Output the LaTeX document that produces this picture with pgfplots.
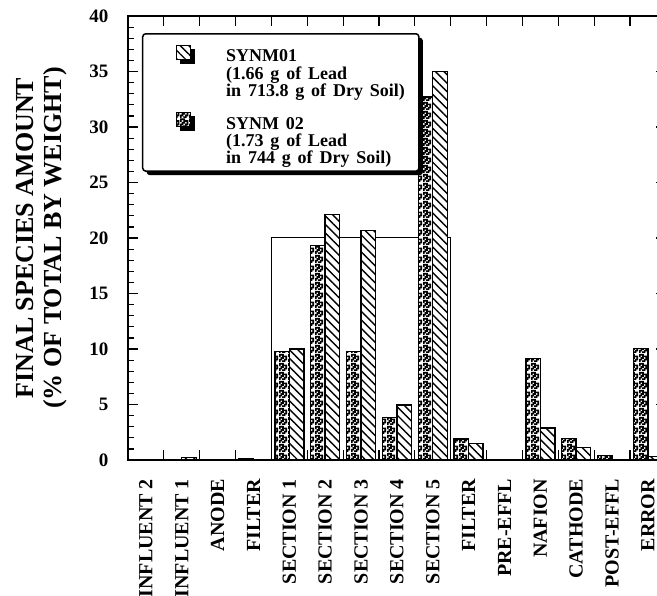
\documentclass[border=0pt]{standalone}
\usepackage{fontspec}
\setmainfont{Liberation Serif}
\usepackage{pgfplots}
\pgfplotsset{compat=1.18}
\usepackage{pgfplotstable}
\usetikzlibrary{patterns,patterns.meta,shadows}

\pgfdeclarepatternformonly{mottle}{\pgfqpoint{0pt}{0pt}}{\pgfqpoint{4.5pt}{4.5pt}}{\pgfqpoint{4.5pt}{4.5pt}}{%
  \pgfpathrectangle{\pgfqpoint{0pt}{0pt}}{\pgfqpoint{0.9pt}{0.9pt}}%
  \pgfpathrectangle{\pgfqpoint{1.8pt}{0pt}}{\pgfqpoint{1.8pt}{0.9pt}}%
  \pgfpathrectangle{\pgfqpoint{0pt}{0.9pt}}{\pgfqpoint{1.8pt}{0.9pt}}%
  \pgfpathrectangle{\pgfqpoint{2.7pt}{0.9pt}}{\pgfqpoint{1.8pt}{0.9pt}}%
  \pgfpathrectangle{\pgfqpoint{0.9pt}{1.8pt}}{\pgfqpoint{1.8pt}{0.9pt}}%
  \pgfpathrectangle{\pgfqpoint{3.6pt}{1.8pt}}{\pgfqpoint{0.9pt}{0.9pt}}%
  \pgfpathrectangle{\pgfqpoint{0pt}{2.7pt}}{\pgfqpoint{0.9pt}{0.9pt}}%
  \pgfpathrectangle{\pgfqpoint{1.8pt}{2.7pt}}{\pgfqpoint{2.7pt}{0.9pt}}%
  \pgfpathrectangle{\pgfqpoint{0pt}{3.6pt}}{\pgfqpoint{2.7pt}{0.9pt}}%
  \pgfusepath{fill}}

\newcommand{\legfont}{\fontsize{9}{7.6}\selectfont\bfseries\spaceskip=0.38em}

\pgfplotstableread{
x s02 s01
0 0 0
1 0 0.25
2 0 0
3 0.08 0
4 9.8 10.0
5 19.3 22.1
6 9.8 20.65
7 3.85 4.95
8 32.7 35.0
9 1.9 1.5
10 0.07 0.07
11 9.15 2.9
12 1.95 1.1
13 0.42 0
14 10.05 0.34
}\datatable

\pgfplotsset{sqleg/.style={legend image code/.code={%
  \path (-11.5pt,0pt);
  \path (22.5pt,-23.5pt);
  \draw[##1, line width=0.7pt, sharp corners] (0pt,-7pt) rectangle (7pt,0pt);}}}

\begin{document}
\begin{tikzpicture}
\begin{axis}[name=ax, scale only axis, width=268.9pt, height=222pt,
  xmin=-0.5, xmax=14.5, ymin=0, ymax=40,
  axis line style={line width=0.8pt},
  tick align=inside, xtick pos=both, ytick pos=both,
  xtick={-0.5,0.5,...,14.5}, xticklabels={},
  major tick length=5pt, minor tick length=3pt,
  ytick={0,5,...,40}, minor y tick num=4,
  tick style={black, line width=0.6pt},
  extra x ticks={0,1,...,14},
  extra x tick labels={INFLUENT 2, INFLUENT 1, ANODE, FILTER, SECTION 1, SECTION 2, SECTION 3, SECTION 4, SECTION 5, FILTER, PRE-EFFL, NAFION, CATHODE, POST-EFFL, ERROR},
  extra x tick style={major tick length=0pt},
  xticklabel style={rotate=90, anchor=east, font=\fontsize{10}{12}\selectfont\bfseries},
  xticklabel shift=6pt,
  yticklabel style={font=\fontsize{9.5}{11}\selectfont\bfseries},
  yticklabel shift=6.3pt,
  /pgf/number format/assume math mode=true,
  ylabel={FINAL SPECIES AMOUNT\\(\% OF TOTAL BY WEIGHT)},
  ylabel style={at={([xshift=-27pt]axis description cs:0,0.5)}, anchor=south, align=center, font=\fontsize{13}{14}\selectfont\bfseries},
  reverse legend,
  legend style={at={(rel axis cs:0,1)}, anchor=north west, xshift=7pt, yshift=-8.5pt,
    draw=black, line width=0.75pt, rounded corners=1.5pt, fill=white,
    drop shadow={shadow xshift=2pt, shadow yshift=-2pt, fill=black, opacity=1},
    inner xsep=5pt, inner ysep=5.4pt, row sep=9.5pt,
    cells={anchor=north west, inner sep=0pt, font=\legfont}},
]
\addplot[sharp plot, black, line width=0.5pt, mark=none, forget plot]
  coordinates {(3.5,0) (3.5,20.05) (8.5,20.05) (8.5,0)};
\addplot[ybar, bar width=7.25pt, bar shift=-3.625pt, draw=black, line width=0.7pt,
  fill=white, postaction={pattern=mottle}, sqleg]
  table[x=x, y=s02]{\datatable};
\addlegendentry{\begin{tabular}{@{}l@{}}SYNM 02\\(1.73 g of Lead\\in 744 g of Dry Soil)\end{tabular}}
\addplot[ybar, bar width=7.25pt, bar shift=3.625pt, draw=black, line width=0.7pt,
  fill=white, postaction={pattern={Lines[angle=-45, distance=3pt, line width=0.7pt]}}, sqleg]
  table[x=x, y=s01]{\datatable};
\addlegendentry{\begin{tabular}{@{}l@{}}SYNM01\\(1.66 g of Lead\\in 713.8 g of Dry Soil)\end{tabular}}
\end{axis}
\pgfresetboundingbox
\path ([xshift=-64pt,yshift=-67.5pt]ax.south west) rectangle ([xshift=264.5pt,yshift=8pt]ax.north west);
\end{tikzpicture}
\end{document}
